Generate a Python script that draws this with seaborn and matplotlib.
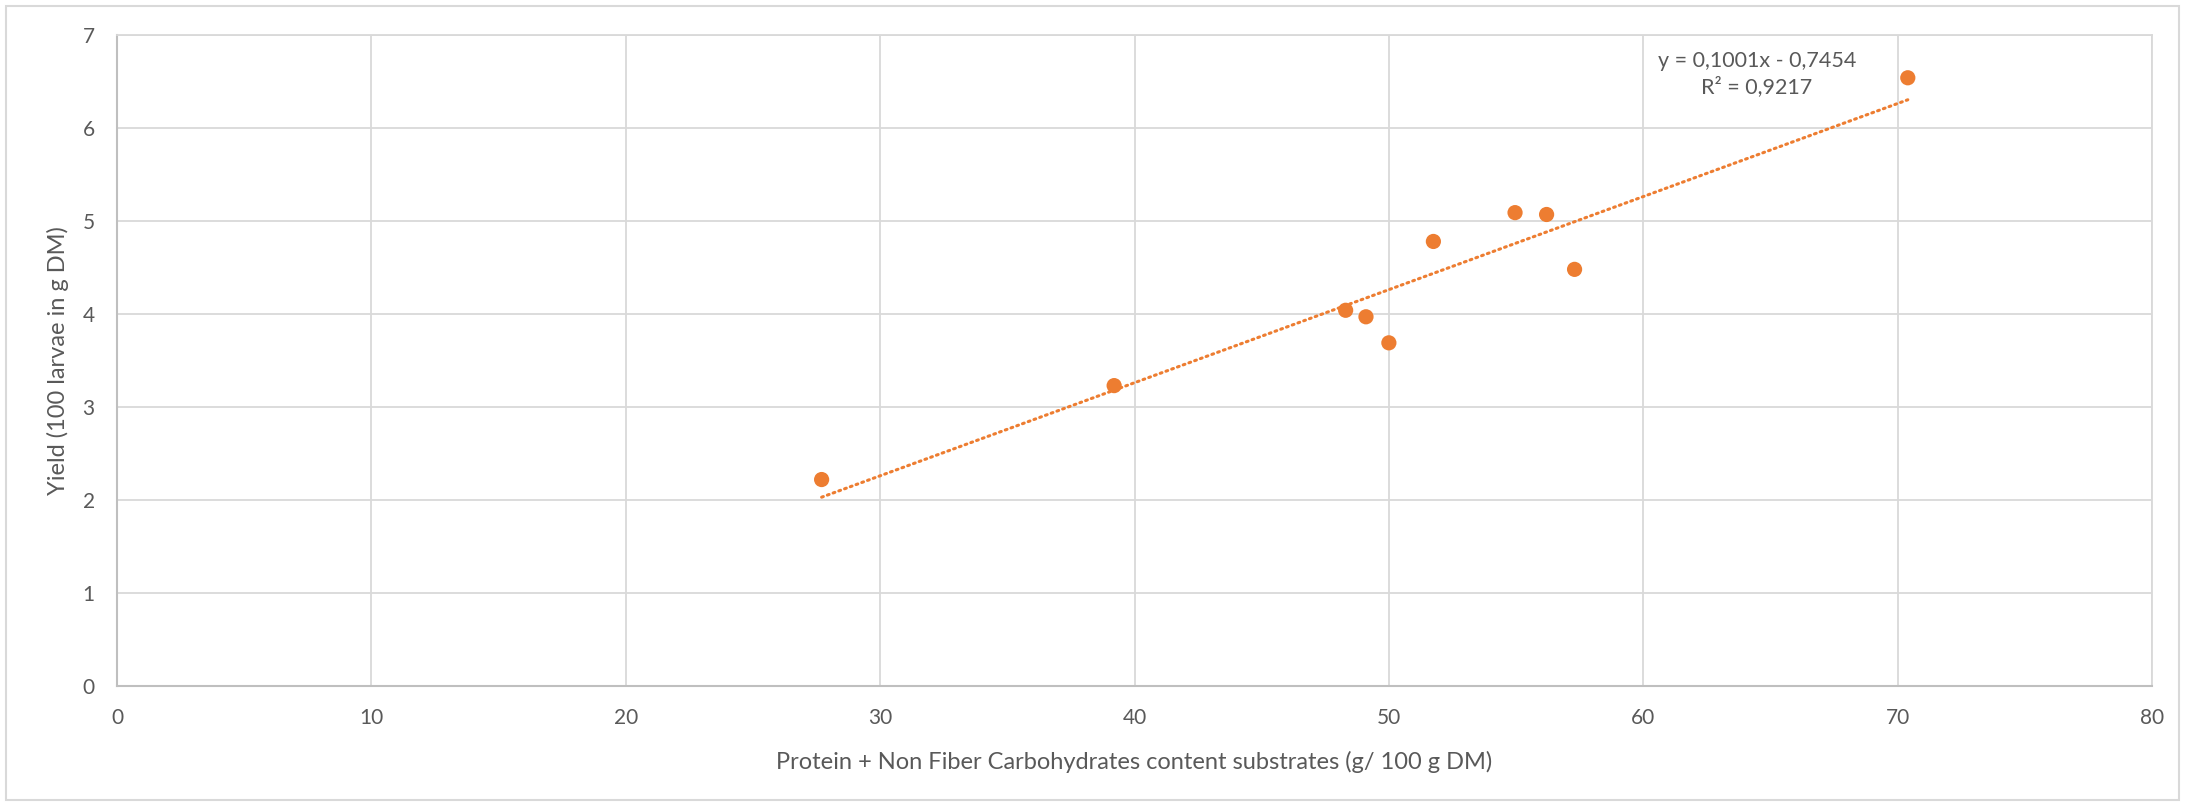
import matplotlib
matplotlib.use("Agg")
import matplotlib.pyplot as plt
from matplotlib.patches import Rectangle
import numpy as np
import pandas as pd
import seaborn as sns

# Substrate composition vs. larval yield
pnfc_content = [27.7, 39.2, 48.3, 49.1, 50.0, 51.75, 54.96, 56.2, 57.3, 70.4]
yield_100_larvae = [2.22, 3.23, 4.04, 3.97, 3.69, 4.78, 5.09, 5.07, 4.48, 6.54]

x_ticks = [0, 10, 20, 30, 40, 50, 60, 70, 80]
y_ticks = [0, 1, 2, 3, 4, 5, 6, 7]

x_label = "Protein + Non Fiber Carbohydrates content substrates (g/ 100 g DM)"
y_label = "Yield (100 larvae in g DM)"
equation = "y = 0,1001x - 0,7454\nR² = 0,9217"

ORANGE = "#ED7D31"
GRID = "#D9D9D9"
AXIS = "#BFBFBF"
TEXT = "#595959"

df = pd.DataFrame({"x": pnfc_content, "y": yield_100_larvae})

sns.set_theme(style="whitegrid")
plt.rcParams["font.family"] = ["Lato", "DejaVu Sans"]

fig = plt.figure(figsize=(21.87, 8.02), dpi=100)
ax = fig.add_axes([117 / 2187, 1 - 686 / 802, (2152 - 117) / 2187, (686 - 35) / 802])
ax.set_facecolor("white")

# Linear trendline over the data range
sns.regplot(data=df, x="x", y="y", ax=ax, scatter=False, ci=None, truncate=True,
            line_kws=dict(color=ORANGE, lw=2.2, linestyle=(0, (0.6, 1.4)),
                          dash_capstyle="round"))
sns.scatterplot(data=df, x="x", y="y", ax=ax, color=ORANGE, s=120,
                edgecolor="none", zorder=3)

ax.set_xlim(0, 80)
ax.set_ylim(0, 7)
ax.set_xticks(x_ticks)
ax.set_yticks(y_ticks)
ax.grid(True, color=GRID, lw=1.3)
ax.set_axisbelow(True)

for side in ["top", "right"]:
    ax.spines[side].set_color(GRID)
    ax.spines[side].set_linewidth(1.3)
for side in ["left", "bottom"]:
    ax.spines[side].set_color(AXIS)
    ax.spines[side].set_linewidth(1.5)

ax.tick_params(axis="both", length=0, labelsize=15, labelcolor=TEXT)
ax.tick_params(axis="x", pad=16)
ax.tick_params(axis="y", pad=16)

ax.set_xlabel(x_label, fontsize=17, color=TEXT, labelpad=16)
ax.set_ylabel(y_label, fontsize=17, color=TEXT, labelpad=10)

ax.text(1757 / 2187, 1 - 74 / 802, equation, transform=fig.transFigure,
        ha="center", va="center", fontsize=15.5, color=TEXT, linespacing=1.3)

fig.patches.append(Rectangle((6 / 2187, 2 / 802), 2173 / 2187, 794 / 802,
                             transform=fig.transFigure, fill=False,
                             edgecolor=GRID, lw=1.5))

fig.savefig("out.png", dpi=100, facecolor="white")
